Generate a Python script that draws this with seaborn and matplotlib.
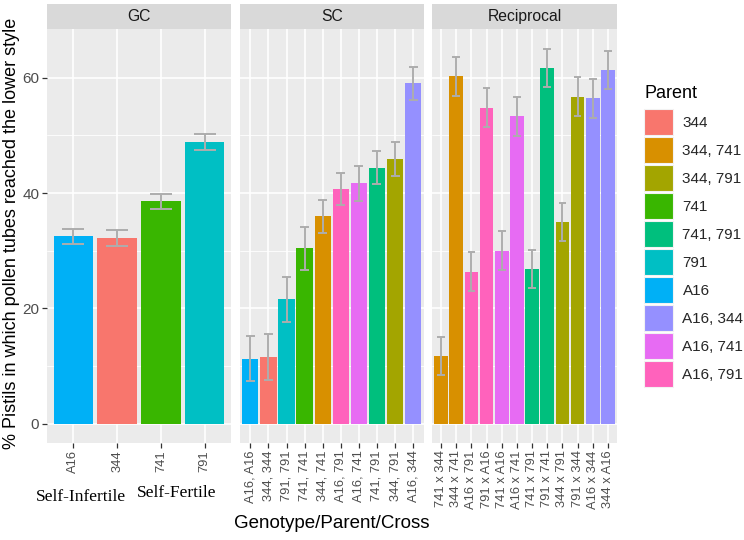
import numpy as np
import pandas as pd
import matplotlib
matplotlib.use("Agg")
import matplotlib.pyplot as plt
from matplotlib.ticker import FixedLocator
from matplotlib.patches import Patch
import seaborn as sns

# ---------------- data ----------------
panels = ["GC", "SC", "Reciprocal"]

gc_labels = ["A16", "344", "741", "791"]
gc_parent = ["A16", "344", "741", "791"]
gc_mean = [32.5, 32.2, 38.6, 48.9]
gc_err = [1.3, 1.35, 1.3, 1.4]

sc_labels = ["A16, A16", "344, 344", "791, 791", "741, 741", "344, 741",
             "A16, 791", "A16, 741", "741, 791", "344, 791", "A16, 344"]
sc_parent = ["A16", "344", "791", "741", "344, 741",
             "A16, 791", "A16, 741", "741, 791", "344, 791", "A16, 344"]
sc_mean = [11.3, 11.6, 21.6, 30.4, 36.0, 40.7, 41.7, 44.4, 45.9, 59.0]
sc_err = [3.9, 3.95, 3.9, 3.8, 2.85, 2.85, 3.0, 2.9, 2.9, 2.85]

rec_labels = ["741 x 344", "344 x 741", "A16 x 791", "791 x A16", "741 x A16",
              "A16 x 741", "741 x 791", "791 x 741", "344 x 791", "791 x 344",
              "A16 x 344", "344 x A16"]
rec_parent = ["344, 741", "344, 741", "A16, 791", "A16, 791", "A16, 741",
              "A16, 741", "741, 791", "741, 791", "344, 791", "344, 791",
              "A16, 344", "A16, 344"]
rec_mean = [11.8, 60.2, 26.4, 54.8, 30.0, 53.3, 26.8, 61.7, 35.0, 56.7, 56.4, 61.3]
rec_err = [3.3, 3.35, 3.35, 3.4, 3.4, 3.4, 3.3, 3.3, 3.3, 3.4, 3.4, 3.25]

parent_levels = ["344", "344, 741", "344, 791", "741", "741, 791", "791",
                 "A16", "A16, 344", "A16, 741", "A16, 791"]
parent_colors = ["#F8766D", "#D89000", "#A3A500", "#39B600", "#00BF7D", "#00BFC4",
                 "#00B0F6", "#9590FF", "#E76BF3", "#FF62BC"]

y_title = "% Pistils in which pollen tubes reached the lower style"
x_title = "Genotype/Parent/Cross"
legend_title = "Parent"
group_notes = ["Self-Infertile", "Self-Fertile"]

# ---------------- build frames ----------------
frames = []
for name, labs, par, m, e in [("GC", gc_labels, gc_parent, gc_mean, gc_err),
                              ("SC", sc_labels, sc_parent, sc_mean, sc_err),
                              ("Reciprocal", rec_labels, rec_parent, rec_mean, rec_err)]:
    frames.append(pd.DataFrame({"panel": name, "label": labs, "Parent": par,
                                "mean": m, "err": e}))
df = pd.concat(frames, ignore_index=True)
palette = dict(zip(parent_levels, parent_colors))

# ---------------- figure ----------------
sns.set_theme(style="darkgrid")
plt.rcParams["font.family"] = ["Liberation Sans", "DejaVu Sans"]

W, H = 744, 540
fig = plt.figure(figsize=(W / 100, H / 100), dpi=100)
fig.patch.set_facecolor("white")


def rect(x0, x1, y0, y1):
    return [x0 / W, 1 - y1 / H, (x1 - x0) / W, (y1 - y0) / H]


panel_x = [(47, 231), (239.5, 424), (432, 617)]
ptop, pbot, stop = 29.4, 442.7, 4.0
ylo, yhi = -3.26, 68.36
err_col = "#ADADAD"

for i, name in enumerate(panels):
    sub = df[df["panel"] == name].reset_index(drop=True)
    x0, x1 = panel_x[i]
    ax = fig.add_axes(rect(x0, x1, ptop, pbot))
    ax.set_facecolor("#EBEBEB")
    sns.barplot(data=sub, x="label", y="mean", hue="Parent", palette=palette,
                order=list(sub["label"]), hue_order=parent_levels, dodge=False,
                width=0.9, errorbar=None, saturation=1, legend=False, ax=ax,
                edgecolor="none", zorder=2)
    xs = np.arange(len(sub))
    lo = sub["mean"] - sub["err"]
    hi = sub["mean"] + sub["err"]
    ax.vlines(xs, lo, hi, color=err_col, lw=1.4, zorder=3)
    ax.hlines(hi, xs - 0.25, xs + 0.25, color=err_col, lw=1.4, zorder=3)
    ax.hlines(lo, xs - 0.25, xs + 0.25, color=err_col, lw=1.4, zorder=3)

    ax.set_xlim(-0.6, len(sub) - 0.4)
    ax.set_ylim(ylo, yhi)
    ax.yaxis.set_major_locator(FixedLocator([0, 20, 40, 60]))
    ax.yaxis.set_minor_locator(FixedLocator([10, 30, 50]))
    ax.set_axisbelow(True)
    ax.grid(which="major", color="white", lw=1.2, zorder=0)
    ax.grid(which="minor", axis="y", color="white", lw=0.6, zorder=0)
    for s in ax.spines.values():
        s.set_visible(False)
    ax.set_xlabel("")
    ax.set_ylabel("")
    ax.set_xticks(xs)
    ax.set_xticklabels(list(sub["label"]), rotation=90, ha="center", va="top",
                       fontsize=9.3, color="#4D4D4D")
    ax.tick_params(axis="x", length=3.5, width=0.9, color="#333333", pad=2,
                   bottom=True)
    ax.tick_params(axis="y", which="minor", left=False)
    if i == 0:
        ax.tick_params(axis="y", which="major", length=3.5, width=0.9,
                       color="#333333", labelsize=11, labelcolor="#4D4D4D",
                       pad=2, left=True)
    else:
        ax.tick_params(axis="y", which="both", left=False, labelleft=False)

    sax = fig.add_axes(rect(x0, x1, stop, ptop))
    sax.set_facecolor("#D9D9D9")
    sax.set_xticks([])
    sax.set_yticks([])
    sax.grid(False)
    for s in sax.spines.values():
        s.set_visible(False)
    sax.text(0.5, 0.5, name, ha="center", va="center", fontsize=11.3,
             color="#1A1A1A", transform=sax.transAxes)

# axis titles
fig.text(12 / W, 1 - 233 / H, y_title, rotation=90, ha="center", va="center",
         fontsize=13, color="black")
fig.text(332 / W, 1 - 523 / H, x_title, ha="center", va="center",
         fontsize=13.5, color="black")

# group annotations
fig.text(81 / W, 1 - 497 / H, group_notes[0], ha="center", va="center",
         fontsize=12.5, family="Liberation Serif", color="black")
fig.text(177 / W, 1 - 493 / H, group_notes[1], ha="center", va="center",
         fontsize=12.5, family="Liberation Serif", color="black")

# legend
fig.text(645 / W, 1 - 94 / H, legend_title, ha="left", va="center",
         fontsize=13, color="black")
handles = [Patch(facecolor=palette[p], edgecolor="#F2F2F2", lw=0.8)
           for p in parent_levels]
leg = fig.legend(handles, parent_levels, loc="upper left",
                 bbox_to_anchor=(644 / W, 1 - 109 / H), frameon=False,
                 fontsize=11, handlelength=1.9,
                 handleheight=2.24, labelspacing=0.133, handletextpad=0.62,
                 borderpad=0, borderaxespad=0)

fig.savefig("out.png", dpi=100, facecolor="white")
